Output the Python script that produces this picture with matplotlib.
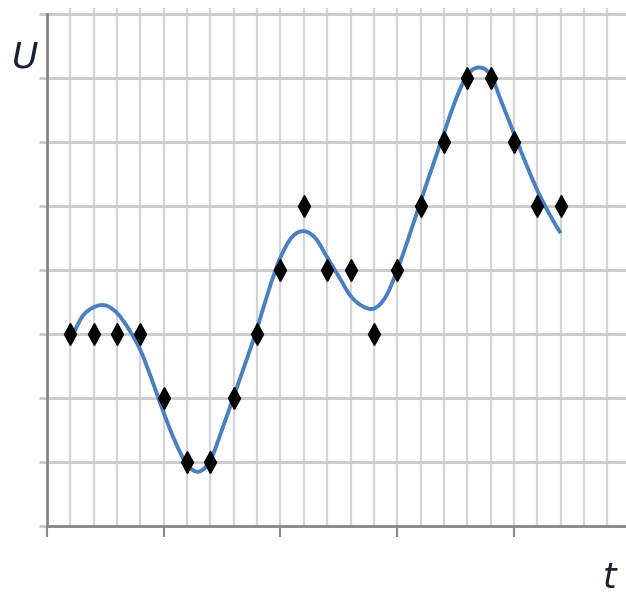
import numpy as np
import matplotlib.pyplot as plt
from matplotlib.path import Path
from matplotlib.patches import PathPatch

# measured points (t in grid steps, U in grid steps)
t = [1, 2, 3, 4, 5, 6, 7, 8, 9, 10, 11, 12, 13, 14, 15, 16, 17, 18, 19, 20, 21, 22]
u = [3, 3, 3, 3, 2, 1, 1, 2, 3, 4, 5, 4, 4, 3, 4, 5, 6, 7, 7, 6, 5, 5]

# smooth trend curve, every half step
curve_t = [1, 1.5, 2, 2.5, 3, 3.5, 4, 4.5, 5, 5.5, 6, 6.5, 7, 7.5, 8, 8.5,
           9, 9.5, 10, 10.5, 11, 11.5, 12, 12.5, 13, 13.5, 14, 14.5, 15, 15.5,
           16, 16.5, 17, 17.5, 18, 18.5, 19, 19.5, 20, 20.5, 21, 21.5, 22]
curve_u = [2.9, 3.27, 3.42, 3.45, 3.33, 3.08, 2.75, 2.28, 1.77, 1.31, 0.96, 0.85,
           1.03, 1.51, 2.03, 2.55, 3.09, 3.69, 4.2, 4.52, 4.61, 4.5, 4.2, 3.9,
           3.6, 3.44, 3.4, 3.58, 4.0, 4.52, 5.07, 5.61, 6.14, 6.66, 7.05, 7.17,
           7.05, 6.6, 6.14, 5.68, 5.25, 4.89, 4.58]


def smooth_path(xs, ys):
    # Catmull-Rom through the points, drawn as cubic Bezier segments
    p = np.column_stack([xs, ys])
    pad = np.vstack([p[0], p, p[-1]])
    verts = [p[0]]
    codes = [Path.MOVETO]
    for i in range(1, len(pad) - 2):
        p0, p1, p2, p3 = pad[i - 1], pad[i], pad[i + 1], pad[i + 2]
        verts += [p1 + (p2 - p0) / 6, p2 - (p3 - p1) / 6, p2]
        codes += [Path.CURVE4] * 3
    return Path(verts, codes)


fig = plt.figure(figsize=(6.26, 5.97), dpi=100)
ax = fig.add_axes([47 / 626, 71 / 597, 579 / 626, 518 / 597])

ax.set_xlim(0, 24.8)
ax.set_ylim(0, 8.1)

# grid
for k in range(1, 25):
    ax.axvline(k, color='#d4d4d4', lw=1.6, zorder=0)
for k in range(1, 9):
    ax.axhline(k, color='#cccccc', lw=2.2, zorder=0)

ax.add_patch(PathPatch(smooth_path(curve_t, curve_u), fill=False,
                       edgecolor='#4a7fc1', lw=2.8, zorder=2, capstyle='butt'))
ax.plot(t, u, 'd', color='black', ms=11, zorder=3)

for s in ['top', 'right']:
    ax.spines[s].set_visible(False)
ax.spines['left'].set_color('#858585')
ax.spines['bottom'].set_color('#858585')
ax.spines['left'].set_linewidth(2)
ax.spines['bottom'].set_linewidth(2)
ax.spines['left'].set_bounds(0, 8)

ax.set_xticks([0, 5, 10, 15, 20])
ax.set_yticks(range(0, 9))
ax.tick_params(axis='x', length=8, width=1.5, color='#8a8a8a', labelbottom=False)
ax.tick_params(axis='y', length=6, width=2, color='#c8c8c8', labelleft=False)

fig.text(25 / 626, 1 - 57 / 597, 'U', fontsize=26, style='italic',
         color='#1c2030', ha='center', va='center')
fig.text(610 / 626, 1 - 578 / 597, 't', fontsize=25, style='italic',
         color='#1c2030', ha='center', va='center')

fig.savefig('out.png', dpi=100)
